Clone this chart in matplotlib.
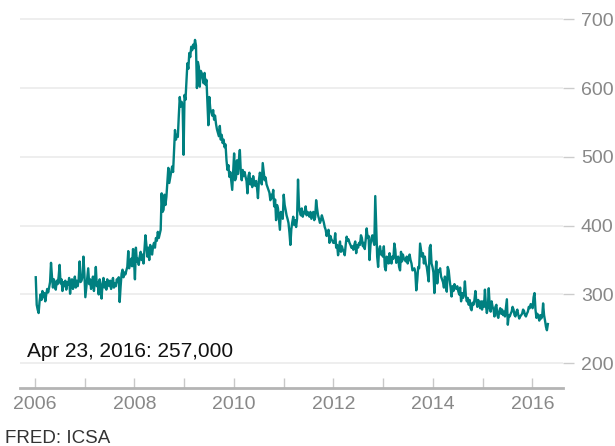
"""Weekly initial jobless claims (FRED: ICSA), 2006 - Apr 2016."""
import matplotlib
matplotlib.use("Agg")
import matplotlib.pyplot as plt
import matplotlib.dates as mdates
import pandas as pd

# weekly values, thousands (week ending Saturday)
claims_2006 = [325, 285, 278, 273, 290, 300, 292, 305, 296, 302, 290, 300, 308, 303, 310, 318,
               346, 326, 310, 322, 312, 307, 320, 315, 326, 343, 316, 322, 305, 318, 312, 320,
               307, 318, 314, 324, 301, 318, 322, 308, 315, 326, 310, 320, 312, 322, 348, 318,
               320, 326, 355, 330]
claims_2007 = [296, 310, 325, 338, 315, 322, 308, 318, 326, 305, 320, 340, 312, 318, 300, 322,
               310, 294, 315, 324, 310, 318, 307, 322, 315, 312, 320, 308, 318, 324, 310, 316,
               312, 322, 318, 325, 289, 312, 330, 336, 325, 332, 329, 335, 340, 363, 338, 345,
               352, 341, 366, 350]
claims_2008 = [322, 368, 348, 352, 343, 355, 362, 350, 358, 345, 365, 386, 372, 355, 368, 350,
               372, 362, 358, 370, 375, 368, 382, 378, 391, 382, 388, 394, 447, 420, 423, 445,
               430, 442, 463, 484, 462, 470, 478, 486, 478, 510, 539, 525, 532, 529, 560, 587,
               573, 580, 575, 503]
claims_2009 = [590, 583, 610, 636, 628, 651, 645, 660, 655, 663, 658, 670, 662, 600, 638, 631,
               602, 625, 622, 615, 607, 622, 605, 612, 580, 546, 587, 570, 565, 560, 568, 554,
               560, 548, 540, 535, 530, 545, 525, 532, 520, 525, 514, 518, 495, 481, 488, 471,
               478, 465, 452, 478]
claims_2010 = [505, 466, 470, 495, 475, 495, 510, 478, 466, 481, 472, 478, 471, 465, 447, 472,
               477, 460, 468, 456, 472, 462, 458, 465, 455, 440, 466, 477, 470, 460, 491, 478,
               466, 470, 460, 456, 452, 448, 437, 445, 440, 452, 428, 438, 408, 430, 425, 410,
               394, 420, 415, 410]
claims_2011 = [445, 430, 423, 415, 410, 404, 390, 372, 395, 405, 413, 401, 408, 398, 410, 467,
               428, 420, 415, 425, 413, 420, 418, 428, 415, 420, 418, 413, 420, 410, 415, 420,
               408, 412, 437, 425, 415, 410, 404, 408, 415, 410, 405, 398, 394, 385, 390, 394,
               375, 385, 380, 378, 375]
claims_2012 = [375, 389, 368, 372, 357, 368, 377, 362, 370, 365, 362, 357, 372, 384, 378, 380,
               375, 372, 368, 370, 365, 372, 377, 360, 372, 368, 375, 372, 386, 382, 370, 375,
               366, 380, 396, 382, 385, 350, 372, 382, 386, 378, 372, 443, 401, 355, 340, 365,
               370, 358, 362, 355]
claims_2013 = [370, 340, 335, 355, 352, 345, 360, 352, 345, 355, 352, 374, 365, 346, 350, 355,
               340, 335, 362, 348, 358, 352, 350, 348, 355, 345, 352, 358, 350, 345, 335, 336,
               338, 332, 306, 320, 340, 338, 374, 365, 355, 360, 345, 355, 345, 340, 330, 319,
               368, 372, 345, 340]
claims_2014 = [332, 302, 330, 348, 316, 335, 333, 338, 326, 322, 318, 310, 326, 312, 304, 340,
               335, 321, 310, 297, 312, 305, 315, 310, 308, 312, 305, 300, 310, 290, 302, 295,
               300, 319, 298, 290, 295, 285, 292, 280, 277, 288, 285, 292, 305, 290, 282, 292,
               285, 280, 290, 278]
claims_2015 = [290, 282, 307, 285, 273, 280, 309, 283, 275, 290, 282, 278, 268, 282, 285, 270,
               266, 275, 280, 272, 278, 270, 275, 268, 280, 293, 256, 270, 268, 272, 275, 282,
               278, 270, 268, 275, 278, 270, 265, 268, 270, 272, 278, 276, 270, 268, 272, 275,
               282, 280, 286, 284]
claims_2016 = [280, 296, 302, 278, 266, 272, 268, 262, 270, 265, 268, 287, 270, 262, 253, 248,
               257]

yearly = {2006: claims_2006, 2007: claims_2007, 2008: claims_2008, 2009: claims_2009,
          2010: claims_2010, 2011: claims_2011, 2012: claims_2012, 2013: claims_2013,
          2014: claims_2014, 2015: claims_2015, 2016: claims_2016}

y_ticks = [200, 300, 400, 500, 600, 700]
annotation = "Apr 23, 2016: 257,000"
source = "FRED: ICSA"

TEAL = "#008080"
GRID = "#ebebeb"
LABEL = "#888888"

# build the weekly series, one Saturday per value
parts = []
for year, vals in yearly.items():
    idx = pd.date_range(f"{year}-01-01", periods=len(vals), freq="W-SAT")
    parts.append(pd.Series(vals, index=idx))
series = pd.concat(parts)

plt.rcParams["font.family"] = ["Liberation Sans", "DejaVu Sans"]

fig = plt.figure(figsize=(6.15, 4.46), dpi=100)
ax = fig.add_axes([0.032, 0.130, 0.883, 0.870])

ax.plot(series.index, series.values, color=TEAL, lw=1.7, zorder=3)

ax.set_ylim(164, 728)
ax.set_xlim(pd.Timestamp("2005-09-11"), pd.Timestamp("2016-08-10"))

ax.set_yticks(y_ticks)
ax.yaxis.tick_right()
ax.grid(axis="y", color=GRID, lw=1.2, zorder=0)
ax.tick_params(axis="y", direction="out", length=8, width=1, color="#cccccc",
               labelcolor=LABEL, labelsize=14, pad=5)

ax.xaxis.set_major_locator(mdates.YearLocator(2))
ax.xaxis.set_minor_locator(mdates.YearLocator(1))
ax.xaxis.set_major_formatter(mdates.DateFormatter("%Y"))
ax.tick_params(axis="x", which="both", direction="in", length=7, width=1,
               color="#c8c8c8", labelcolor=LABEL, labelsize=14, pad=6)

for side in ["top", "left", "right"]:
    ax.spines[side].set_visible(False)
ax.spines["bottom"].set_color("#b4b4b4")
ax.spines["bottom"].set_linewidth(2)

fig.text(27 / 615, 1 - 357 / 446, annotation, fontsize=15, color="#111111",
         ha="left", va="baseline")
fig.text(5 / 615, 1 - 443 / 446, source, fontsize=13.5, color="#333333",
         ha="left", va="baseline")

fig.savefig("out.png", dpi=100)
